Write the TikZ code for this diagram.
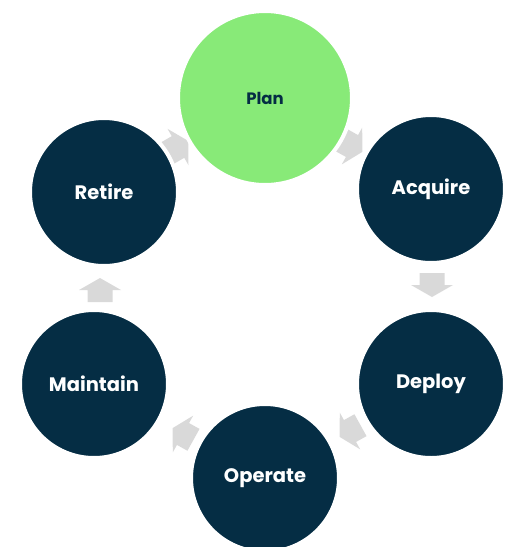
\documentclass[tikz,border=0pt]{standalone}
\usepackage{fontspec}
\setmainfont{Poppins}
\definecolor{navy}{HTML}{052D44}
\definecolor{leaf}{HTML}{88EA78}
\definecolor{arrowgray}{HTML}{D9D9D9}
\begin{document}
\begin{tikzpicture}[x=1pt,y=-1pt,
  stage/.style={circle,draw=white,line width=4pt,fill=navy,text=white,
    minimum size=148pt,inner sep=0pt,font=\fontsize{19.5}{21}\selectfont\bfseries},
  bigstage/.style={stage,minimum size=174pt,fill=leaf,text=navy,
    font=\fontsize{16.5}{18}\selectfont\bfseries},
  blockarrow/.style={fill=arrowgray}]
\useasboundingbox (0,0) rectangle (513,547);
% arrows (drawn first so that the circles' white rims clip them)
\newcommand{\blockarr}[3]{%
  \begin{scope}[shift={(#1,#2)},rotate=#3]
    \fill[blockarrow] (-12,-12.5) -- (0,-12.5) -- (0,-21) -- (12,0)
      -- (0,21) -- (0,12.5) -- (-12,12.5) -- cycle;
  \end{scope}}
\blockarr{352}{146}{-29}
\blockarr{432}{285}{-90}
\blockarr{350}{431}{209}
\blockarr{183}{434}{151}
\blockarr{100}{290}{90}
\blockarr{178}{147}{30}
% stages
\node[bigstage] (plan) at (265,98) {Plan};
\node[stage] (acquire) at (431,189) {Acquire};
\node[stage] (deploy) at (431,384) {Deploy};
\node[stage] (operate) at (265,478) {Operate};
\node[stage] (maintain) at (94,384) {Maintain};
\node[stage] (retire) at (104,192) {Retire};
\end{tikzpicture}
\end{document}
